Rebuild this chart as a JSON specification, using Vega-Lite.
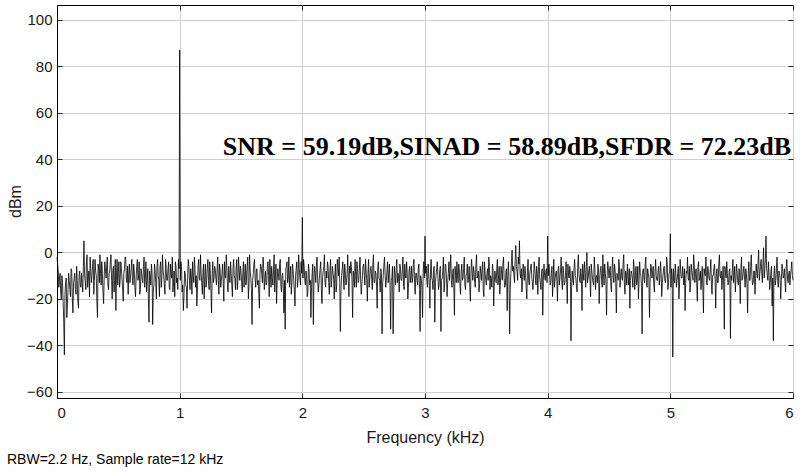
{
"$schema": "https://vega.github.io/schema/vega-lite/v6.json",
"width": 736, "height": 393,
"autosize": "none",
"padding": {"left": 57, "top": 5, "right": 8, "bottom": 74},
"background": "white",
"config": {
  "view": {"stroke": "#000000", "strokeWidth": 1},
  "axis": {"labelFont": "Liberation Sans", "titleFont": "Liberation Sans", "labelColor": "#1a1a1a", "titleColor": "#1a1a1a", "titleFontWeight": "normal", "domainColor": "#000000", "tickColor": "#262626", "gridColor": "#d0d0d0", "gridWidth": 1}
},
"title": {"text": "RBW=2.2 Hz, Sample rate=12 kHz", "orient": "bottom", "anchor": "start", "frame": "bounds", "font": "Liberation Sans", "fontSize": 14, "fontWeight": "normal", "color": "#000000", "offset": 8},
"layer": [
 {
  "data": {"values": [
{"f":0.00,"v":-2},{"f":0.01,"v":-8},{"f":0.02,"v":-12},{"f":0.03,"v":-17},{"f":0.04,"v":-10},{"f":0.05,"v":-21},{"f":0.06,"v":-44},{"f":0.07,"v":-13},{"f":0.08,"v":-28},{"f":0.09,"v":-16},
{"f":0.10,"v":-12},{"f":0.11,"v":-19},{"f":0.12,"v":-8},{"f":0.13,"v":-26},{"f":0.14,"v":-11},{"f":0.15,"v":-16},{"f":0.16,"v":-6},{"f":0.17,"v":-21},{"f":0.18,"v":-10},{"f":0.19,"v":-14},
{"f":0.20,"v":-9},{"f":0.21,"v":-17},{"f":0.22,"v":5},{"f":0.23,"v":-12},{"f":0.24,"v":-4},{"f":0.25,"v":-15},{"f":0.26,"v":-8},{"f":0.27,"v":-2},{"f":0.28,"v":-13},{"f":0.29,"v":-6},
{"f":0.30,"v":-18},{"f":0.31,"v":-3},{"f":0.32,"v":-10},{"f":0.33,"v":-28},{"f":0.34,"v":-7},{"f":0.35,"v":-1},{"f":0.36,"v":-14},{"f":0.37,"v":-9},{"f":0.38,"v":-22},{"f":0.39,"v":-4},
{"f":0.40,"v":-11},{"f":0.41,"v":-2},{"f":0.42,"v":-16},{"f":0.43,"v":-8},{"f":0.44,"v":-1},{"f":0.45,"v":-20},{"f":0.46,"v":-6},{"f":0.47,"v":-12},{"f":0.48,"v":-25},{"f":0.49,"v":-3},
{"f":0.50,"v":-9},{"f":0.51,"v":-15},{"f":0.52,"v":-4},{"f":0.53,"v":-11},{"f":0.54,"v":-21},{"f":0.55,"v":-7},{"f":0.56,"v":-2},{"f":0.57,"v":-13},{"f":0.58,"v":-18},{"f":0.59,"v":-5},
{"f":0.60,"v":-10},{"f":0.61,"v":-3},{"f":0.62,"v":-14},{"f":0.63,"v":-8},{"f":0.64,"v":-19},{"f":0.65,"v":-6},{"f":0.66,"v":-12},{"f":0.67,"v":-4},{"f":0.68,"v":-16},{"f":0.69,"v":-9},
{"f":0.70,"v":-13},{"f":0.71,"v":-2},{"f":0.72,"v":-11},{"f":0.73,"v":-17},{"f":0.74,"v":-7},{"f":0.75,"v":-30},{"f":0.76,"v":-10},{"f":0.77,"v":-5},{"f":0.78,"v":-31},{"f":0.79,"v":-14},
{"f":0.80,"v":-8},{"f":0.81,"v":-20},{"f":0.82,"v":-3},{"f":0.83,"v":-12},{"f":0.84,"v":-6},{"f":0.85,"v":-15},{"f":0.86,"v":-1},{"f":0.87,"v":-10},{"f":0.88,"v":-18},{"f":0.89,"v":-7},
{"f":0.90,"v":-12},{"f":0.91,"v":-4},{"f":0.92,"v":-16},{"f":0.93,"v":-9},{"f":0.94,"v":-2},{"f":0.95,"v":-13},{"f":0.96,"v":-19},{"f":0.97,"v":-6},{"f":0.98,"v":-11},{"f":0.99,"v":-3},
{"f":1.00,"v":87},{"f":1.01,"v":-4},{"f":1.02,"v":-17},{"f":1.03,"v":-25},{"f":1.04,"v":-8},{"f":1.05,"v":-14},{"f":1.06,"v":-24},{"f":1.07,"v":-3},{"f":1.08,"v":-12},{"f":1.09,"v":-7},
{"f":1.10,"v":-18},{"f":1.11,"v":-10},{"f":1.12,"v":-2},{"f":1.13,"v":-15},{"f":1.14,"v":-23},{"f":1.15,"v":-6},{"f":1.16,"v":-11},{"f":1.17,"v":-1},{"f":1.18,"v":-13},{"f":1.19,"v":-8},
{"f":1.20,"v":-20},{"f":1.21,"v":-5},{"f":1.22,"v":-12},{"f":1.23,"v":-3},{"f":1.24,"v":-16},{"f":1.25,"v":-9},{"f":1.26,"v":-26},{"f":1.27,"v":-4},{"f":1.28,"v":-11},{"f":1.29,"v":-7},
{"f":1.30,"v":-14},{"f":1.31,"v":-2},{"f":1.32,"v":-18},{"f":1.33,"v":-8},{"f":1.34,"v":-12},{"f":1.35,"v":-5},{"f":1.36,"v":-21},{"f":1.37,"v":-10},{"f":1.38,"v":-1},{"f":1.39,"v":-15},
{"f":1.40,"v":-6},{"f":1.41,"v":-13},{"f":1.42,"v":-9},{"f":1.43,"v":-19},{"f":1.44,"v":-3},{"f":1.45,"v":-11},{"f":1.46,"v":-7},{"f":1.47,"v":-16},{"f":1.48,"v":-2},{"f":1.49,"v":-12},
{"f":1.50,"v":-8},{"f":1.51,"v":-17},{"f":1.52,"v":-4},{"f":1.53,"v":-10},{"f":1.54,"v":-14},{"f":1.55,"v":-6},{"f":1.56,"v":-20},{"f":1.57,"v":-1},{"f":1.58,"v":-11},{"f":1.59,"v":-31},
{"f":1.60,"v":-9},{"f":1.61,"v":-3},{"f":1.62,"v":-15},{"f":1.63,"v":-7},{"f":1.64,"v":-12},{"f":1.65,"v":-24},{"f":1.66,"v":-5},{"f":1.67,"v":-10},{"f":1.68,"v":-2},{"f":1.69,"v":-16},
{"f":1.70,"v":-8},{"f":1.71,"v":-13},{"f":1.72,"v":-4},{"f":1.73,"v":-19},{"f":1.74,"v":-9},{"f":1.75,"v":-6},{"f":1.76,"v":-14},{"f":1.77,"v":-1},{"f":1.78,"v":-11},{"f":1.79,"v":-22},
{"f":1.80,"v":-7},{"f":1.81,"v":-12},{"f":1.82,"v":-3},{"f":1.83,"v":-17},{"f":1.84,"v":-9},{"f":1.85,"v":-26},{"f":1.86,"v":-33},{"f":1.87,"v":-6},{"f":1.88,"v":-13},{"f":1.89,"v":-2},
{"f":1.90,"v":-10},{"f":1.91,"v":-18},{"f":1.92,"v":-5},{"f":1.93,"v":-12},{"f":1.94,"v":-23},{"f":1.95,"v":-7},{"f":1.96,"v":-15},{"f":1.97,"v":-1},{"f":1.98,"v":-11},{"f":1.99,"v":-4},
{"f":2.00,"v":15},{"f":2.01,"v":-3},{"f":2.02,"v":-12},{"f":2.03,"v":-8},{"f":2.04,"v":-19},{"f":2.05,"v":-5},{"f":2.06,"v":-14},{"f":2.07,"v":-28},{"f":2.08,"v":-9},{"f":2.09,"v":-31},
{"f":2.10,"v":-6},{"f":2.11,"v":-13},{"f":2.12,"v":-2},{"f":2.13,"v":-17},{"f":2.14,"v":-10},{"f":2.15,"v":-4},{"f":2.16,"v":-22},{"f":2.17,"v":-8},{"f":2.18,"v":-1},{"f":2.19,"v":-15},
{"f":2.20,"v":-11},{"f":2.21,"v":-6},{"f":2.22,"v":-18},{"f":2.23,"v":-3},{"f":2.24,"v":-12},{"f":2.25,"v":-9},{"f":2.26,"v":-20},{"f":2.27,"v":-5},{"f":2.28,"v":-14},{"f":2.29,"v":-7},
{"f":2.30,"v":-2},{"f":2.31,"v":-34},{"f":2.32,"v":-10},{"f":2.33,"v":-4},{"f":2.34,"v":-16},{"f":2.35,"v":-8},{"f":2.36,"v":-13},{"f":2.37,"v":-1},{"f":2.38,"v":-19},{"f":2.39,"v":-9},
{"f":2.40,"v":-6},{"f":2.41,"v":-28},{"f":2.42,"v":-11},{"f":2.43,"v":-3},{"f":2.44,"v":-15},{"f":2.45,"v":-7},{"f":2.46,"v":-12},{"f":2.47,"v":-2},{"f":2.48,"v":-18},{"f":2.49,"v":-10},
{"f":2.50,"v":-5},{"f":2.51,"v":-14},{"f":2.52,"v":-8},{"f":2.53,"v":-21},{"f":2.54,"v":-3},{"f":2.55,"v":-11},{"f":2.56,"v":-6},{"f":2.57,"v":-16},{"f":2.58,"v":-1},{"f":2.59,"v":-13},
{"f":2.60,"v":-9},{"f":2.61,"v":-24},{"f":2.62,"v":-4},{"f":2.63,"v":-12},{"f":2.64,"v":-7},{"f":2.65,"v":-35},{"f":2.66,"v":-10},{"f":2.67,"v":-2},{"f":2.68,"v":-15},{"f":2.69,"v":-8},
{"f":2.70,"v":-13},{"f":2.71,"v":-5},{"f":2.72,"v":-33},{"f":2.73,"v":-11},{"f":2.74,"v":-35},{"f":2.75,"v":-6},{"f":2.76,"v":-14},{"f":2.77,"v":-3},{"f":2.78,"v":-9},{"f":2.79,"v":-17},
{"f":2.80,"v":-7},{"f":2.81,"v":-12},{"f":2.82,"v":-2},{"f":2.83,"v":-16},{"f":2.84,"v":-10},{"f":2.85,"v":-4},{"f":2.86,"v":-20},{"f":2.87,"v":-8},{"f":2.88,"v":-13},{"f":2.89,"v":-6},
{"f":2.90,"v":-11},{"f":2.91,"v":-3},{"f":2.92,"v":-18},{"f":2.93,"v":-9},{"f":2.94,"v":-14},{"f":2.95,"v":-5},{"f":2.96,"v":-34},{"f":2.97,"v":-12},{"f":2.98,"v":-28},{"f":2.99,"v":-4},
{"f":3.00,"v":7},{"f":3.01,"v":-6},{"f":3.02,"v":-15},{"f":3.03,"v":-9},{"f":3.04,"v":-24},{"f":3.05,"v":-3},{"f":3.06,"v":-12},{"f":3.07,"v":-7},{"f":3.08,"v":-30},{"f":3.09,"v":-10},
{"f":3.10,"v":-4},{"f":3.11,"v":-16},{"f":3.12,"v":-8},{"f":3.13,"v":-34},{"f":3.14,"v":-11},{"f":3.15,"v":-2},{"f":3.16,"v":-14},{"f":3.17,"v":-6},{"f":3.18,"v":-19},{"f":3.19,"v":-9},
{"f":3.20,"v":-12},{"f":3.21,"v":-1},{"f":3.22,"v":-15},{"f":3.23,"v":-7},{"f":3.24,"v":-27},{"f":3.25,"v":-10},{"f":3.26,"v":-4},{"f":3.27,"v":-13},{"f":3.28,"v":-8},{"f":3.29,"v":-18},
{"f":3.30,"v":-5},{"f":3.31,"v":-11},{"f":3.32,"v":-2},{"f":3.33,"v":-16},{"f":3.34,"v":-9},{"f":3.35,"v":-13},{"f":3.36,"v":-6},{"f":3.37,"v":-21},{"f":3.38,"v":-3},{"f":3.39,"v":-12},
{"f":3.40,"v":-8},{"f":3.41,"v":-15},{"f":3.42,"v":-1},{"f":3.43,"v":-10},{"f":3.44,"v":-17},{"f":3.45,"v":-6},{"f":3.46,"v":-12},{"f":3.47,"v":-4},{"f":3.48,"v":-19},{"f":3.49,"v":-9},
{"f":3.50,"v":-14},{"f":3.51,"v":-7},{"f":3.52,"v":-2},{"f":3.53,"v":-16},{"f":3.54,"v":-11},{"f":3.55,"v":-5},{"f":3.56,"v":-23},{"f":3.57,"v":-8},{"f":3.58,"v":-13},{"f":3.59,"v":-3},
{"f":3.60,"v":-10},{"f":3.61,"v":-18},{"f":3.62,"v":-6},{"f":3.63,"v":-12},{"f":3.64,"v":-2},{"f":3.65,"v":-15},{"f":3.66,"v":-8},{"f":3.67,"v":-25},{"f":3.68,"v":-4},{"f":3.69,"v":-35},
{"f":3.70,"v":-9},{"f":3.71,"v":1},{"f":3.72,"v":-6},{"f":3.73,"v":-13},{"f":3.74,"v":3},{"f":3.75,"v":-8},{"f":3.76,"v":-2},{"f":3.77,"v":5},{"f":3.78,"v":-11},{"f":3.79,"v":-17},
{"f":3.80,"v":-5},{"f":3.81,"v":-12},{"f":3.82,"v":-9},{"f":3.83,"v":-20},{"f":3.84,"v":-3},{"f":3.85,"v":-14},{"f":3.86,"v":-7},{"f":3.87,"v":-10},{"f":3.88,"v":-16},{"f":3.89,"v":-4},
{"f":3.90,"v":-11},{"f":3.91,"v":-6},{"f":3.92,"v":-18},{"f":3.93,"v":-2},{"f":3.94,"v":-13},{"f":3.95,"v":-9},{"f":3.96,"v":-27},{"f":3.97,"v":-5},{"f":3.98,"v":-12},{"f":3.99,"v":-7},
{"f":4.00,"v":7},{"f":4.01,"v":-5},{"f":4.02,"v":-14},{"f":4.03,"v":-9},{"f":4.04,"v":-19},{"f":4.05,"v":-3},{"f":4.06,"v":-12},{"f":4.07,"v":-8},{"f":4.08,"v":-21},{"f":4.09,"v":-6},
{"f":4.10,"v":-11},{"f":4.11,"v":-2},{"f":4.12,"v":-16},{"f":4.13,"v":-9},{"f":4.14,"v":-13},{"f":4.15,"v":-4},{"f":4.16,"v":-22},{"f":4.17,"v":-10},{"f":4.18,"v":-6},{"f":4.19,"v":-38},
{"f":4.20,"v":-8},{"f":4.21,"v":-14},{"f":4.22,"v":-3},{"f":4.23,"v":-11},{"f":4.24,"v":-17},{"f":4.25,"v":-1},{"f":4.26,"v":-12},{"f":4.27,"v":-7},{"f":4.28,"v":-25},{"f":4.29,"v":-9},
{"f":4.30,"v":-4},{"f":4.31,"v":-15},{"f":4.32,"v":0},{"f":4.33,"v":-11},{"f":4.34,"v":-6},{"f":4.35,"v":-19},{"f":4.36,"v":-8},{"f":4.37,"v":-13},{"f":4.38,"v":-2},{"f":4.39,"v":-16},
{"f":4.40,"v":-10},{"f":4.41,"v":-5},{"f":4.42,"v":-22},{"f":4.43,"v":-7},{"f":4.44,"v":-12},{"f":4.45,"v":-1},{"f":4.46,"v":-14},{"f":4.47,"v":-9},{"f":4.48,"v":-27},{"f":4.49,"v":-4},
{"f":4.50,"v":-11},{"f":4.51,"v":-6},{"f":4.52,"v":-17},{"f":4.53,"v":-2},{"f":4.54,"v":-13},{"f":4.55,"v":-8},{"f":4.56,"v":-26},{"f":4.57,"v":-10},{"f":4.58,"v":-3},{"f":4.59,"v":-15},
{"f":4.60,"v":-7},{"f":4.61,"v":-12},{"f":4.62,"v":-1},{"f":4.63,"v":-18},{"f":4.64,"v":-9},{"f":4.65,"v":-5},{"f":4.66,"v":-14},{"f":4.67,"v":-24},{"f":4.68,"v":-8},{"f":4.69,"v":-11},
{"f":4.70,"v":-3},{"f":4.71,"v":-16},{"f":4.72,"v":-6},{"f":4.73,"v":-12},{"f":4.74,"v":-20},{"f":4.75,"v":-4},{"f":4.76,"v":-10},{"f":4.77,"v":-35},{"f":4.78,"v":-7},{"f":4.79,"v":-13},
{"f":4.80,"v":-2},{"f":4.81,"v":-15},{"f":4.82,"v":-9},{"f":4.83,"v":-28},{"f":4.84,"v":-5},{"f":4.85,"v":-11},{"f":4.86,"v":-6},{"f":4.87,"v":-17},{"f":4.88,"v":-3},{"f":4.89,"v":-12},
{"f":4.90,"v":-8},{"f":4.91,"v":-14},{"f":4.92,"v":-4},{"f":4.93,"v":-19},{"f":4.94,"v":-10},{"f":4.95,"v":-6},{"f":4.96,"v":-13},{"f":4.97,"v":-2},{"f":4.98,"v":-16},{"f":4.99,"v":-9},
{"f":5.00,"v":8},{"f":5.01,"v":-7},{"f":5.02,"v":-45},{"f":5.03,"v":-12},{"f":5.04,"v":-5},{"f":5.05,"v":-15},{"f":5.06,"v":-9},{"f":5.07,"v":-20},{"f":5.08,"v":-3},{"f":5.09,"v":-11},
{"f":5.10,"v":-6},{"f":5.11,"v":-14},{"f":5.12,"v":-25},{"f":5.13,"v":-8},{"f":5.14,"v":-2},{"f":5.15,"v":-12},{"f":5.16,"v":-17},{"f":5.17,"v":-5},{"f":5.18,"v":-10},{"f":5.19,"v":-1},
{"f":5.20,"v":-13},{"f":5.21,"v":-7},{"f":5.22,"v":-21},{"f":5.23,"v":-4},{"f":5.24,"v":-11},{"f":5.25,"v":-16},{"f":5.26,"v":-6},{"f":5.27,"v":-26},{"f":5.28,"v":-9},{"f":5.29,"v":-2},
{"f":5.30,"v":-14},{"f":5.31,"v":-8},{"f":5.32,"v":-12},{"f":5.33,"v":-3},{"f":5.34,"v":-18},{"f":5.35,"v":-10},{"f":5.36,"v":-5},{"f":5.37,"v":-24},{"f":5.38,"v":-7},{"f":5.39,"v":-13},
{"f":5.40,"v":-1},{"f":5.41,"v":-11},{"f":5.42,"v":-16},{"f":5.43,"v":-6},{"f":5.44,"v":-33},{"f":5.45,"v":-9},{"f":5.46,"v":-4},{"f":5.47,"v":-14},{"f":5.48,"v":-8},{"f":5.49,"v":-37},
{"f":5.50,"v":-12},{"f":5.51,"v":-3},{"f":5.52,"v":-10},{"f":5.53,"v":-17},{"f":5.54,"v":-5},{"f":5.55,"v":-13},{"f":5.56,"v":-7},{"f":5.57,"v":-22},{"f":5.58,"v":-2},{"f":5.59,"v":-11},
{"f":5.60,"v":-6},{"f":5.61,"v":-15},{"f":5.62,"v":-9},{"f":5.63,"v":-26},{"f":5.64,"v":-4},{"f":5.65,"v":-12},{"f":5.66,"v":-1},{"f":5.67,"v":-14},{"f":5.68,"v":-8},{"f":5.69,"v":-18},
{"f":5.70,"v":-5},{"f":5.71,"v":-11},{"f":5.72,"v":1},{"f":5.73,"v":-9},{"f":5.74,"v":-3},{"f":5.75,"v":-13},{"f":5.76,"v":2},{"f":5.77,"v":-7},{"f":5.78,"v":7},{"f":5.79,"v":-10},
{"f":5.80,"v":-4},{"f":5.81,"v":-16},{"f":5.82,"v":-8},{"f":5.83,"v":-23},{"f":5.84,"v":-38},{"f":5.85,"v":-6},{"f":5.86,"v":-12},{"f":5.87,"v":-2},{"f":5.88,"v":-15},{"f":5.89,"v":-9},
{"f":5.90,"v":-20},{"f":5.91,"v":-5},{"f":5.92,"v":-11},{"f":5.93,"v":-7},{"f":5.94,"v":-17},{"f":5.95,"v":-3},{"f":5.96,"v":-13},{"f":5.97,"v":-8},{"f":5.98,"v":-10},{"f":5.99,"v":-4},
{"f":6.00,"v":-12},
{"f":0.005,"v":-5},{"f":0.015,"v":-15},{"f":0.025,"v":-9},{"f":0.035,"v":-20},{"f":0.045,"v":-13},{"f":0.055,"v":-30},{"f":0.065,"v":-18},{"f":0.075,"v":-11},{"f":0.085,"v":-22},{"f":0.095,"v":-9},
{"f":0.105,"v":-16},{"f":0.115,"v":-7},{"f":0.125,"v":-20},{"f":0.135,"v":-13},{"f":0.145,"v":-9},{"f":0.155,"v":-18},{"f":0.165,"v":-12},{"f":0.175,"v":-24},{"f":0.185,"v":-8},{"f":0.195,"v":-15},
{"f":0.205,"v":-13},{"f":0.215,"v":-6},{"f":0.225,"v":-10},{"f":0.235,"v":-16},{"f":0.245,"v":-1},{"f":0.255,"v":-11},{"f":0.265,"v":-19},{"f":0.275,"v":-7},{"f":0.285,"v":-10},{"f":0.295,"v":-3},
{"f":0.305,"v":-12},{"f":0.315,"v":-8},{"f":0.325,"v":-21},{"f":0.335,"v":-5},{"f":0.345,"v":-13},{"f":0.355,"v":-9},{"f":0.365,"v":-4},{"f":0.375,"v":-17},{"f":0.385,"v":-10},{"f":0.395,"v":-7},
{"f":0.405,"v":-6},{"f":0.415,"v":-14},{"f":0.425,"v":-9},{"f":0.435,"v":-4},{"f":0.445,"v":-12},{"f":0.455,"v":-8},{"f":0.465,"v":-17},{"f":0.475,"v":-3},{"f":0.485,"v":-10},{"f":0.495,"v":-14},
{"f":0.505,"v":-4},{"f":0.515,"v":-12},{"f":0.525,"v":-7},{"f":0.535,"v":-16},{"f":0.545,"v":-9},{"f":0.555,"v":-2},{"f":0.565,"v":-11},{"f":0.575,"v":-6},{"f":0.585,"v":-9},{"f":0.595,"v":-13},
{"f":0.605,"v":-7},{"f":0.615,"v":-12},{"f":0.625,"v":-5},{"f":0.635,"v":-15},{"f":0.645,"v":-11},{"f":0.655,"v":-3},{"f":0.665,"v":-10},{"f":0.675,"v":-18},{"f":0.685,"v":-7},{"f":0.695,"v":-12},
{"f":0.705,"v":-6},{"f":0.715,"v":-15},{"f":0.725,"v":-4},{"f":0.735,"v":-12},{"f":0.745,"v":-20},{"f":0.755,"v":-8},{"f":0.765,"v":-14},{"f":0.775,"v":-9},{"f":0.785,"v":-17},{"f":0.795,"v":-5},
{"f":0.805,"v":-13},{"f":0.815,"v":-6},{"f":0.825,"v":-10},{"f":0.835,"v":-19},{"f":0.845,"v":-4},{"f":0.855,"v":-11},{"f":0.865,"v":-8},{"f":0.875,"v":-14},{"f":0.885,"v":-3},{"f":0.895,"v":-12},
{"f":0.905,"v":-7},{"f":0.915,"v":-15},{"f":0.925,"v":-5},{"f":0.935,"v":-11},{"f":0.945,"v":-17},{"f":0.955,"v":-8},{"f":0.965,"v":-4},{"f":0.975,"v":-13},{"f":0.985,"v":-16},{"f":0.995,"v":-7},
{"f":1.005,"v":-12},{"f":1.015,"v":-6},{"f":1.025,"v":-14},{"f":1.035,"v":-19},{"f":1.045,"v":-9},{"f":1.055,"v":-15},{"f":1.065,"v":-11},{"f":1.075,"v":-6},{"f":1.085,"v":-16},{"f":1.095,"v":-10},
{"f":1.105,"v":-4},{"f":1.115,"v":-13},{"f":1.125,"v":-7},{"f":1.135,"v":-10},{"f":1.145,"v":-16},{"f":1.155,"v":-3},{"f":1.165,"v":-12},{"f":1.175,"v":-9},{"f":1.185,"v":-18},{"f":1.195,"v":-5},
{"f":1.205,"v":-10},{"f":1.215,"v":-15},{"f":1.225,"v":-7},{"f":1.235,"v":-12},{"f":1.245,"v":-4},{"f":1.255,"v":-17},{"f":1.265,"v":-9},{"f":1.275,"v":-13},{"f":1.285,"v":-6},{"f":1.295,"v":-11},
{"f":1.305,"v":-8},{"f":1.315,"v":-12},{"f":1.325,"v":-5},{"f":1.335,"v":-15},{"f":1.345,"v":-9},{"f":1.355,"v":-13},{"f":1.365,"v":-4},{"f":1.375,"v":-11},{"f":1.385,"v":-7},{"f":1.395,"v":-17},
{"f":1.405,"v":-11},{"f":1.415,"v":-4},{"f":1.425,"v":-14},{"f":1.435,"v":-7},{"f":1.445,"v":-10},{"f":1.455,"v":-16},{"f":1.465,"v":-3},{"f":1.475,"v":-12},{"f":1.485,"v":-8},{"f":1.495,"v":-6},
{"f":1.505,"v":-13},{"f":1.515,"v":-9},{"f":1.525,"v":-15},{"f":1.535,"v":-5},{"f":1.545,"v":-11},{"f":1.555,"v":-2},{"f":1.565,"v":-14},{"f":1.575,"v":-8},{"f":1.585,"v":-16},{"f":1.595,"v":-12},
{"f":1.605,"v":-5},{"f":1.615,"v":-11},{"f":1.625,"v":-8},{"f":1.635,"v":-14},{"f":1.645,"v":-18},{"f":1.655,"v":-9},{"f":1.665,"v":-6},{"f":1.675,"v":-13},{"f":1.685,"v":-7},{"f":1.695,"v":-11},
{"f":1.705,"v":-14},{"f":1.715,"v":-6},{"f":1.725,"v":-10},{"f":1.735,"v":-3},{"f":1.745,"v":-15},{"f":1.755,"v":-11},{"f":1.765,"v":-8},{"f":1.775,"v":-17},{"f":1.785,"v":-5},{"f":1.795,"v":-12},
{"f":1.805,"v":-9},{"f":1.815,"v":-5},{"f":1.825,"v":-14},{"f":1.835,"v":-10},{"f":1.845,"v":-16},{"f":1.855,"v":-12},{"f":1.865,"v":-7},{"f":1.875,"v":-4},{"f":1.885,"v":-11},{"f":1.895,"v":-15},
{"f":1.905,"v":-6},{"f":1.915,"v":-13},{"f":1.925,"v":-8},{"f":1.935,"v":-17},{"f":1.945,"v":-10},{"f":1.955,"v":-4},{"f":1.965,"v":-12},{"f":1.975,"v":-7},{"f":1.985,"v":-14},{"f":1.995,"v":-9},
{"f":2.005,"v":-11},{"f":2.015,"v":-6},{"f":2.025,"v":-14},{"f":2.035,"v":-10},{"f":2.045,"v":-17},{"f":2.055,"v":-8},{"f":2.065,"v":-12},{"f":2.075,"v":-15},{"f":2.085,"v":-5},{"f":2.095,"v":-11},
{"f":2.105,"v":-9},{"f":2.115,"v":-5},{"f":2.125,"v":-12},{"f":2.135,"v":-14},{"f":2.145,"v":-7},{"f":2.155,"v":-16},{"f":2.165,"v":-11},{"f":2.175,"v":-6},{"f":2.185,"v":-13},{"f":2.195,"v":-8},
{"f":2.205,"v":-4},{"f":2.215,"v":-13},{"f":2.225,"v":-8},{"f":2.235,"v":-15},{"f":2.245,"v":-6},{"f":2.255,"v":-11},{"f":2.265,"v":-9},{"f":2.275,"v":-17},{"f":2.285,"v":-3},{"f":2.295,"v":-10},
{"f":2.305,"v":-13},{"f":2.315,"v":-16},{"f":2.325,"v":-7},{"f":2.335,"v":-11},{"f":2.345,"v":-5},{"f":2.355,"v":-14},{"f":2.365,"v":-9},{"f":2.375,"v":-12},{"f":2.385,"v":-6},{"f":2.395,"v":-4},
{"f":2.405,"v":-12},{"f":2.415,"v":-8},{"f":2.425,"v":-15},{"f":2.435,"v":-10},{"f":2.445,"v":-4},{"f":2.455,"v":-13},{"f":2.465,"v":-7},{"f":2.475,"v":-11},{"f":2.485,"v":-14},{"f":2.495,"v":-6},
{"f":2.505,"v":-10},{"f":2.515,"v":-3},{"f":2.525,"v":-12},{"f":2.535,"v":-9},{"f":2.545,"v":-15},{"f":2.555,"v":-7},{"f":2.565,"v":-11},{"f":2.575,"v":-5},{"f":2.585,"v":-13},{"f":2.595,"v":-8},
{"f":2.605,"v":-14},{"f":2.615,"v":-6},{"f":2.625,"v":-11},{"f":2.635,"v":-17},{"f":2.645,"v":-9},{"f":2.655,"v":-13},{"f":2.665,"v":-5},{"f":2.675,"v":-10},{"f":2.685,"v":-12},{"f":2.695,"v":-4},
{"f":2.705,"v":-9},{"f":2.715,"v":-15},{"f":2.725,"v":-12},{"f":2.735,"v":-6},{"f":2.745,"v":-18},{"f":2.755,"v":-10},{"f":2.765,"v":-7},{"f":2.775,"v":-13},{"f":2.785,"v":-11},{"f":2.795,"v":-5},
{"f":2.805,"v":-12},{"f":2.815,"v":-8},{"f":2.825,"v":-14},{"f":2.835,"v":-5},{"f":2.845,"v":-11},{"f":2.855,"v":-9},{"f":2.865,"v":-15},{"f":2.875,"v":-6},{"f":2.885,"v":-10},{"f":2.895,"v":-13},
{"f":2.905,"v":-5},{"f":2.915,"v":-13},{"f":2.925,"v":-9},{"f":2.935,"v":-12},{"f":2.945,"v":-7},{"f":2.955,"v":-16},{"f":2.965,"v":-10},{"f":2.975,"v":-15},{"f":2.985,"v":-8},{"f":2.995,"v":-11},
{"f":3.005,"v":-9},{"f":3.015,"v":-12},{"f":3.025,"v":-5},{"f":3.035,"v":-14},{"f":3.045,"v":-8},{"f":3.055,"v":-11},{"f":3.065,"v":-16},{"f":3.075,"v":-6},{"f":3.085,"v":-13},{"f":3.095,"v":-7},
{"f":3.105,"v":-10},{"f":3.115,"v":-14},{"f":3.125,"v":-6},{"f":3.135,"v":-12},{"f":3.145,"v":-8},{"f":3.155,"v":-17},{"f":3.165,"v":-5},{"f":3.175,"v":-11},{"f":3.185,"v":-13},{"f":3.195,"v":-4},
{"f":3.205,"v":-7},{"f":3.215,"v":-12},{"f":3.225,"v":-9},{"f":3.235,"v":-15},{"f":3.245,"v":-6},{"f":3.255,"v":-13},{"f":3.265,"v":-10},{"f":3.275,"v":-5},{"f":3.285,"v":-14},{"f":3.295,"v":-8},
{"f":3.305,"v":-12},{"f":3.315,"v":-7},{"f":3.325,"v":-14},{"f":3.335,"v":-10},{"f":3.345,"v":-5},{"f":3.355,"v":-11},{"f":3.365,"v":-15},{"f":3.375,"v":-8},{"f":3.385,"v":-9},{"f":3.395,"v":-6},
{"f":3.405,"v":-13},{"f":3.415,"v":-5},{"f":3.425,"v":-11},{"f":3.435,"v":-8},{"f":3.445,"v":-14},{"f":3.455,"v":-9},{"f":3.465,"v":-7},{"f":3.475,"v":-16},{"f":3.485,"v":-4},{"f":3.495,"v":-12},
{"f":3.505,"v":-9},{"f":3.515,"v":-12},{"f":3.525,"v":-6},{"f":3.535,"v":-10},{"f":3.545,"v":-15},{"f":3.555,"v":-8},{"f":3.565,"v":-13},{"f":3.575,"v":-11},{"f":3.585,"v":-7},{"f":3.595,"v":-14},
{"f":3.605,"v":-6},{"f":3.615,"v":-13},{"f":3.625,"v":-9},{"f":3.635,"v":-5},{"f":3.645,"v":-11},{"f":3.655,"v":-14},{"f":3.665,"v":-7},{"f":3.675,"v":-10},{"f":3.685,"v":-12},{"f":3.695,"v":-16},
{"f":3.705,"v":-4},{"f":3.715,"v":-8},{"f":3.725,"v":-10},{"f":3.735,"v":-3},{"f":3.745,"v":-6},{"f":3.755,"v":-12},{"f":3.765,"v":-5},{"f":3.775,"v":-9},{"f":3.785,"v":-7},{"f":3.795,"v":-13},
{"f":3.805,"v":-10},{"f":3.815,"v":-6},{"f":3.825,"v":-15},{"f":3.835,"v":-8},{"f":3.845,"v":-12},{"f":3.855,"v":-9},{"f":3.865,"v":-5},{"f":3.875,"v":-13},{"f":3.885,"v":-11},{"f":3.895,"v":-7},
{"f":3.905,"v":-14},{"f":3.915,"v":-9},{"f":3.925,"v":-6},{"f":3.935,"v":-11},{"f":3.945,"v":-16},{"f":3.955,"v":-7},{"f":3.965,"v":-12},{"f":3.975,"v":-10},{"f":3.985,"v":-8},{"f":3.995,"v":-13},
{"f":4.005,"v":-10},{"f":4.015,"v":-8},{"f":4.025,"v":-13},{"f":4.035,"v":-6},{"f":4.045,"v":-11},{"f":4.055,"v":-15},{"f":4.065,"v":-9},{"f":4.075,"v":-12},{"f":4.085,"v":-7},{"f":4.095,"v":-14},
{"f":4.105,"v":-8},{"f":4.115,"v":-12},{"f":4.125,"v":-6},{"f":4.135,"v":-14},{"f":4.145,"v":-10},{"f":4.155,"v":-13},{"f":4.165,"v":-5},{"f":4.175,"v":-11},{"f":4.185,"v":-9},{"f":4.195,"v":-15},
{"f":4.205,"v":-12},{"f":4.215,"v":-7},{"f":4.225,"v":-10},{"f":4.235,"v":-15},{"f":4.245,"v":-6},{"f":4.255,"v":-9},{"f":4.265,"v":-13},{"f":4.275,"v":-11},{"f":4.285,"v":-5},{"f":4.295,"v":-12},
{"f":4.305,"v":-9},{"f":4.315,"v":-6},{"f":4.325,"v":-13},{"f":4.335,"v":-8},{"f":4.345,"v":-12},{"f":4.355,"v":-5},{"f":4.365,"v":-11},{"f":4.375,"v":-14},{"f":4.385,"v":-7},{"f":4.395,"v":-10},
{"f":4.405,"v":-13},{"f":4.415,"v":-8},{"f":4.425,"v":-11},{"f":4.435,"v":-6},{"f":4.445,"v":-15},{"f":4.455,"v":-9},{"f":4.465,"v":-5},{"f":4.475,"v":-12},{"f":4.485,"v":-10},{"f":4.495,"v":-7},
{"f":4.505,"v":-8},{"f":4.515,"v":-14},{"f":4.525,"v":-7},{"f":4.535,"v":-11},{"f":4.545,"v":-5},{"f":4.555,"v":-13},{"f":4.565,"v":-9},{"f":4.575,"v":-12},{"f":4.585,"v":-6},{"f":4.595,"v":-10},
{"f":4.605,"v":-11},{"f":4.615,"v":-5},{"f":4.625,"v":-13},{"f":4.635,"v":-8},{"f":4.645,"v":-14},{"f":4.655,"v":-10},{"f":4.665,"v":-7},{"f":4.675,"v":-12},{"f":4.685,"v":-9},{"f":4.695,"v":-15},
{"f":4.705,"v":-7},{"f":4.715,"v":-10},{"f":4.725,"v":-14},{"f":4.735,"v":-6},{"f":4.745,"v":-12},{"f":4.755,"v":-9},{"f":4.765,"v":-15},{"f":4.775,"v":-8},{"f":4.785,"v":-11},{"f":4.795,"v":-5},
{"f":4.805,"v":-12},{"f":4.815,"v":-7},{"f":4.825,"v":-11},{"f":4.835,"v":-13},{"f":4.845,"v":-6},{"f":4.855,"v":-9},{"f":4.865,"v":-14},{"f":4.875,"v":-8},{"f":4.885,"v":-10},{"f":4.895,"v":-12},
{"f":4.905,"v":-6},{"f":4.915,"v":-11},{"f":4.925,"v":-9},{"f":4.935,"v":-13},{"f":4.945,"v":-7},{"f":4.955,"v":-12},{"f":4.965,"v":-10},{"f":4.975,"v":-5},{"f":4.985,"v":-13},{"f":4.995,"v":-8},
{"f":5.005,"v":-15},{"f":5.015,"v":-10},{"f":5.025,"v":-7},{"f":5.035,"v":-13},{"f":5.045,"v":-9},{"f":5.055,"v":-12},{"f":5.065,"v":-6},{"f":5.075,"v":-14},{"f":5.085,"v":-8},{"f":5.095,"v":-11},
{"f":5.105,"v":-10},{"f":5.115,"v":-7},{"f":5.125,"v":-13},{"f":5.135,"v":-9},{"f":5.145,"v":-11},{"f":5.155,"v":-6},{"f":5.165,"v":-14},{"f":5.175,"v":-8},{"f":5.185,"v":-12},{"f":5.195,"v":-5},
{"f":5.205,"v":-9},{"f":5.215,"v":-13},{"f":5.225,"v":-6},{"f":5.235,"v":-12},{"f":5.245,"v":-8},{"f":5.255,"v":-11},{"f":5.265,"v":-15},{"f":5.275,"v":-7},{"f":5.285,"v":-10},{"f":5.295,"v":-13},
{"f":5.305,"v":-6},{"f":5.315,"v":-11},{"f":5.325,"v":-8},{"f":5.335,"v":-14},{"f":5.345,"v":-10},{"f":5.355,"v":-7},{"f":5.365,"v":-12},{"f":5.375,"v":-9},{"f":5.385,"v":-13},{"f":5.395,"v":-5},
{"f":5.405,"v":-10},{"f":5.415,"v":-8},{"f":5.425,"v":-12},{"f":5.435,"v":-14},{"f":5.445,"v":-6},{"f":5.455,"v":-11},{"f":5.465,"v":-9},{"f":5.475,"v":-13},{"f":5.485,"v":-7},{"f":5.495,"v":-10},
{"f":5.505,"v":-8},{"f":5.515,"v":-13},{"f":5.525,"v":-6},{"f":5.535,"v":-11},{"f":5.545,"v":-9},{"f":5.555,"v":-14},{"f":5.565,"v":-10},{"f":5.575,"v":-7},{"f":5.585,"v":-12},{"f":5.595,"v":-8},
{"f":5.605,"v":-11},{"f":5.615,"v":-7},{"f":5.625,"v":-14},{"f":5.635,"v":-9},{"f":5.645,"v":-12},{"f":5.655,"v":-6},{"f":5.665,"v":-10},{"f":5.675,"v":-13},{"f":5.685,"v":-8},{"f":5.695,"v":-11},
{"f":5.705,"v":-9},{"f":5.715,"v":-4},{"f":5.725,"v":-12},{"f":5.735,"v":-6},{"f":5.745,"v":-8},{"f":5.755,"v":-5},{"f":5.765,"v":-11},{"f":5.775,"v":-3},{"f":5.785,"v":-7},{"f":5.795,"v":-12},
{"f":5.805,"v":-10},{"f":5.815,"v":-13},{"f":5.825,"v":-6},{"f":5.835,"v":-11},{"f":5.845,"v":-9},{"f":5.855,"v":-14},{"f":5.865,"v":-7},{"f":5.875,"v":-12},{"f":5.885,"v":-8},{"f":5.895,"v":-11},
{"f":5.905,"v":-12},{"f":5.915,"v":-7},{"f":5.925,"v":-10},{"f":5.935,"v":-13},{"f":5.945,"v":-6},{"f":5.955,"v":-11},{"f":5.965,"v":-9},{"f":5.975,"v":-14},{"f":5.985,"v":-7},{"f":5.995,"v":-10}
  ]},
  "mark": {"type": "line", "color": "#000000", "strokeWidth": 0.8},
  "encoding": {
    "x": {"field": "f", "type": "quantitative", "scale": {"domain": [0, 6], "nice": false},
      "axis": {"orient": "bottom", "values": [0,1,2,3,4,5,6], "format": "d", "tickSize": -5, "labelPadding": 12, "labelFontSize": 15, "grid": true, "title": "Frequency (kHz)", "titleFontSize": 16, "titleX": 368, "titleY": 39, "titleAlign": "center", "titleBaseline": "middle"}},
    "y": {"field": "v", "type": "quantitative", "scale": {"domain": [-62.6, 106.4], "nice": false, "zero": false},
      "axis": {"orient": "left", "values": [-60,-40,-20,0,20,40,60,80,100], "tickSize": -5, "labelPadding": 10, "labelFontSize": 15, "grid": true, "title": "dBm", "titleFontSize": 16, "titleX": -42, "titleY": 196, "titleAngle": -90, "titleAlign": "center", "titleBaseline": "middle"}}
  }
 },
 {
  "data": {"values": [{"f": 6, "v": 42, "t": "SNR = 59.19dB,SINAD = 58.89dB,SFDR = 72.23dB"}]},
  "mark": {"type": "text", "align": "right", "baseline": "alphabetic", "font": "Liberation Serif", "fontWeight": "bold", "fontSize": 26, "dx": -2, "color": "#000000"},
  "encoding": {
    "x": {"field": "f", "type": "quantitative", "scale": {"domain": [0, 6], "nice": false},
      "axis": {"orient": "top", "values": [0,1,2,3,4,5,6], "tickSize": -5, "labels": false, "grid": false, "domain": false, "title": null}},
    "y": {"field": "v", "type": "quantitative", "scale": {"domain": [-62.6, 106.4], "nice": false, "zero": false},
      "axis": {"orient": "right", "values": [-60,-40,-20,0,20,40,60,80,100], "tickSize": -5, "labels": false, "grid": false, "domain": false, "title": null}},
    "text": {"field": "t", "type": "nominal"}
  }
 }
],
"resolve": {"axis": {"x": "independent", "y": "independent"}}
}
